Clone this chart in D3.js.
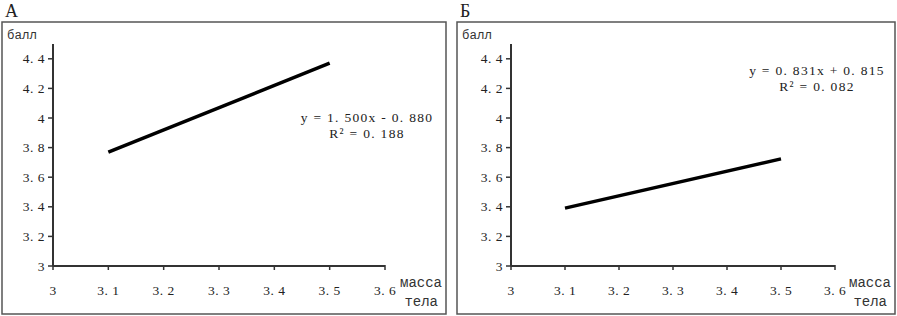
<!DOCTYPE html>
<html><head><meta charset="utf-8">
<script src="https://cdn.jsdelivr.net/npm/d3@7"></script>
<style>
body{margin:0;background:#fff;}
svg{display:block;}
text{font-family:"Liberation Serif","DejaVu Serif",serif;fill:#222;}
</style></head>
<body><svg id="c" width="897" height="316"></svg>
<script>
// data
const panelTitles = ["А", "Б"];
const xTicks = [3, 3.1, 3.2, 3.3, 3.4, 3.5, 3.6];
const yTicks = [3, 3.2, 3.4, 3.6, 3.8, 4, 4.2, 4.4];
const lineXA = [3.1, 3.5];
const lineYA = [3.77, 4.37];
const lineXB = [3.1, 3.5];
const lineYB = [3.391, 3.724];
const eqA = ["y = 1.500x - 0.880", "R² = 0.188"];
const eqB = ["y = 0.831x + 0.815", "R² = 0.082"];
const yLabel = "балл";
const xLabel = ["масса", "тела"];

const svg = d3.select("#c");
const fmt = v => d3.format(".1~f")(v).replace(".", ". ");

function panel(o){
  const g = svg.append("g");
  g.append("text").attr("x", o.bx + 3).attr("y", 17).attr("font-size", 18).text(o.title);
  g.append("rect").attr("x", o.bx).attr("y", 22).attr("width", o.bw).attr("height", 292)
    .attr("fill", "none").attr("stroke", "#555").attr("stroke-width", 1.5);
  const x = d3.scaleLinear().domain([3, 3.6]).range([o.ax, o.ax2]);
  const y = d3.scaleLinear().domain([3, 4.5]).range([266, 44]);
  // y axis
  g.append("line").attr("x1", x(3)).attr("x2", x(3)).attr("y1", y(4.5)).attr("y2", y(3))
    .attr("stroke", "#333").attr("stroke-width", 2);
  g.selectAll(".yt").data(yTicks).join("line")
    .attr("x1", x(3) - 5).attr("x2", x(3)).attr("y1", d => y(d)).attr("y2", d => y(d))
    .attr("stroke", "#333").attr("stroke-width", 1.5);
  g.selectAll(".yl").data(yTicks).join("text")
    .attr("x", x(3) - 8).attr("y", d => y(d) + 4.5).attr("text-anchor", "end")
    .attr("font-size", 13.5).style("letter-spacing", "0.5px").text(fmt);
  // x axis
  g.append("line").attr("x1", x(3)).attr("x2", x(3.6)).attr("y1", y(3)).attr("y2", y(3))
    .attr("stroke", "#333").attr("stroke-width", 2);
  g.selectAll(".xt").data(xTicks).join("line")
    .attr("x1", d => x(d)).attr("x2", d => x(d)).attr("y1", y(3) - 1).attr("y2", y(3) + 4)
    .attr("stroke", "#333").attr("stroke-width", 1.5);
  g.selectAll(".xl").data(xTicks).join("text")
    .attr("x", d => x(d)).attr("y", 295).attr("text-anchor", "middle")
    .attr("font-size", 13.5).style("letter-spacing", "0.5px").text(fmt);
  // axis titles
  const mono = t => t.style("font-family", "'Liberation Mono','DejaVu Sans Mono',monospace").style("fill", "#333");
  mono(g.append("text").attr("x", o.bx + 5).attr("y", 39).attr("font-size", 12.5).text(yLabel));
  mono(g.append("text").attr("x", o.bx + o.bw - 4).attr("y", 287).attr("text-anchor", "end")
    .attr("font-size", 14).text(xLabel[0]));
  mono(g.append("text").attr("x", o.bx + o.bw - 8).attr("y", 306).attr("text-anchor", "end")
    .attr("font-size", 14).text(xLabel[1]));
  // trend line
  const pts = o.lx.map((v, i) => [v, o.ly[i]]);
  g.append("path").datum(pts)
    .attr("d", d3.line().x(d => x(d[0])).y(d => y(d[1])))
    .attr("stroke", "#000").attr("stroke-width", 3.5).attr("fill", "none");
  // equation
  [0, 1].forEach(i => {
    g.append("text").attr("x", o.ex).attr("y", o.ey + 16 * i).attr("text-anchor", "middle")
      .attr("font-size", 13.5).attr("xml:space", "preserve").style("letter-spacing", "1.3px")
      .text(o.eq[i].replace(/\./g, ". "));
  });
}

panel({title: panelTitles[0], bx: 2, bw: 444, ax: 53, ax2: 385, lx: lineXA, ly: lineYA, eq: eqA, ex: 367, ey: 122});
panel({title: panelTitles[1], bx: 457, bw: 438, ax: 511, ax2: 835, lx: lineXB, ly: lineYB, eq: eqB, ex: 817, ey: 75});
</script></body></html>
